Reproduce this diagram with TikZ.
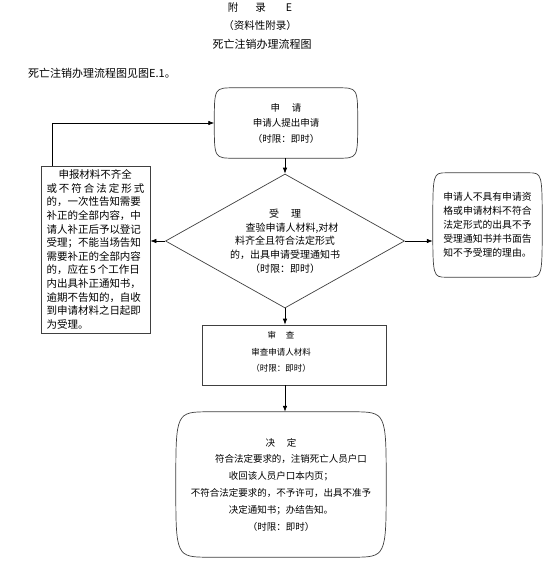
\documentclass[tikz,border=0pt]{standalone}
\usepackage{fontspec}
\setmainfont{Noto Sans CJK SC}
\usetikzlibrary{shapes.geometric,arrows.meta}
\newcommand\bulgebox[2]{%
  \draw[outline] ([xshift=#2]#1.north west) -- ([xshift=-#2]#1.north east)
    .. controls (#1.north east) .. (#1.east)
    .. controls (#1.south east) .. ([xshift=-#2]#1.south east)
    -- ([xshift=#2]#1.south west)
    .. controls (#1.south west) .. (#1.west)
    .. controls (#1.north west) .. ([xshift=#2]#1.north west);}
\tikzset{
  outline/.style={draw=black!75, line width=0.7pt},
  arr/.style={draw=black, line width=0.7pt, -{Latex[length=6pt,width=4.5pt]}},
  txt/.style={inner sep=0pt, align=center},
}
\begin{document}
\begin{tikzpicture}[x=1pt,y=-1pt]
\useasboundingbox[fill=white] (0,0) rectangle (554,566);
% titles
\node[txt, font=\fontsize{10.5}{12}\selectfont] (t1) at (260,8) {附\hspace{17pt}录\hspace{20pt}E};
\node[txt, font=\fontsize{10.5}{12}\selectfont] (t2) at (260,26) {（资料性附录）};
\node[txt, font=\fontsize{11}{12}\selectfont] (t3) at (262,44) {死亡注销办理流程图};
\node[txt, anchor=west, font=\fontsize{11}{12}\selectfont] (intro) at (28,73) {死亡注销办理流程图见图E.1。};
% start
\node[txt, minimum width=143pt, minimum height=70pt, font=\fontsize{9.5}{15.5}\selectfont] (start) at (286,123)
  {申\hspace{12pt}请\\申请人提出申请\\（时限：即时）};
\bulgebox{start}{20pt}
% diamond
\node[diamond, outline, txt, aspect=1.78, minimum width=239pt, minimum height=134pt,
      font=\fontsize{10}{13.7}\selectfont] (dia) at (285,241)
  {受\hspace{12pt}理\\\hspace*{14pt}查验申请人材料,对材\\料齐全且符合法定形式\\的，出具申请受理通知书\\（时限：即时）};
% left box
\node[outline, rectangle, minimum width=109pt, minimum height=167pt, text width=98pt, align=left,
      inner sep=0pt, font=\fontsize{10.5}{13.6}\selectfont] (lbox) at (95.5,249.5)
  {\hspace*{12pt}申报材料不齐全\\
   \makebox[98pt][l]{或\hfill 不\hfill 符\hfill 合\hfill 法\hfill 定\hfill 形\hfill 式}\\
   的，一次性告知需要\\
   补正的全部内容，中\\
   请人补正后予以登记\\
   受理；不能当场告知\\
   需要补正的全部内容\\
   的，应在\,5\,个工作日\\
   内出具补正通知书，\\
   逾期不告知的，自收\\
   到申请材料之日起即\\
   为受理。};
% right box
\node[txt, minimum width=109pt, minimum height=104pt, align=left, font=\fontsize{9.8}{14}\selectfont] (rbox) at (487.5,225)
  {申请人不具有申请资\\格或申请材料不符合\\法定形式的出具不予\\受理通知书并书面告\\知不予受理的理由。};
\bulgebox{rbox}{14pt}
% review
\node[outline, rectangle, minimum width=184pt, minimum height=60pt] (review) at (294,355) {};
\node[txt, font=\fontsize{8.5}{16.5}\selectfont] (reviewtxt) at (281,352)
  {审\hspace{10pt}查\\审查申请人材料\\（时限：即时）};
% decision
\node[txt, minimum width=210pt, minimum height=145pt, font=\fontsize{9.5}{16.8}\selectfont] (decide) at (281,484.5)
  {决\hspace{12pt}定\\\hspace*{20pt}符合法定要求的，注销死亡人员户口\\收回该人员户口本内页；\\不符合法定要求的，不予许可，出具不准予\\决定通知书；办结告知。\\（时限：即时）};
\bulgebox{decide}{34pt}
% connectors
\coordinate (loop) at (52,123);
\draw[arr] (start.south -| dia.north) -- (dia.north);
\draw[arr] (dia.west) -- (lbox.east |- dia.west);
\draw[arr] (dia.east) -- (rbox.west |- dia.east);
\draw[arr] (dia.south) -- (dia.south |- review.north);
\draw[arr] (dia.south |- review.south) -- (dia.south |- decide.north);
\draw[arr] (loop |- lbox.north) -- (loop) -- (start.west);
\end{tikzpicture}
\end{document}
